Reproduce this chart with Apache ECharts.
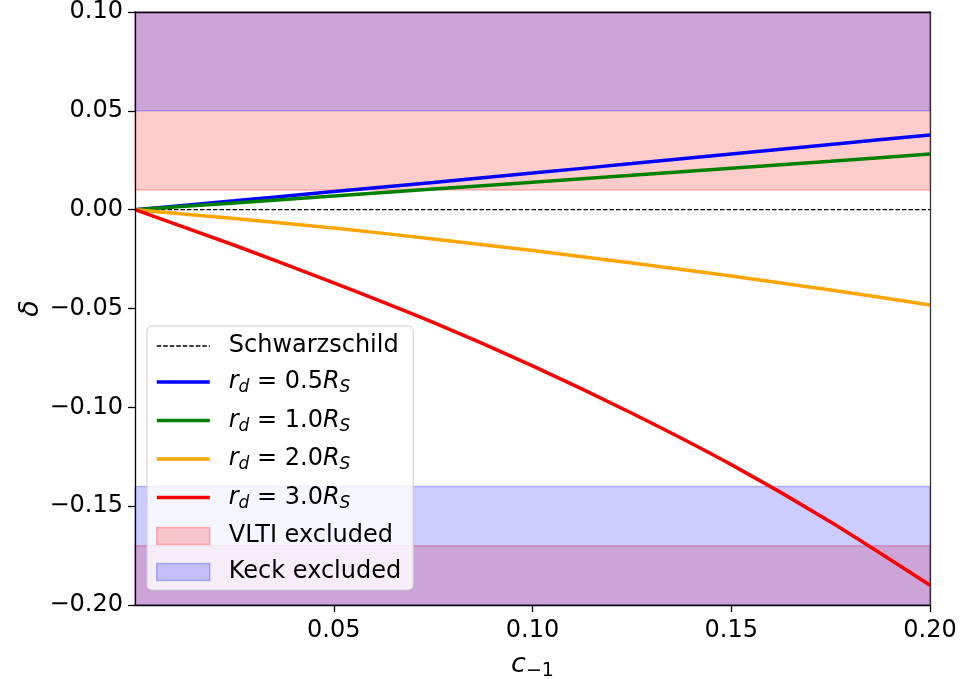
<!DOCTYPE html>
<html>
<head>
<meta charset="utf-8">
<script src="https://cdn.jsdelivr.net/npm/echarts@6/dist/echarts.min.js"></script>
<style>html,body{margin:0;padding:0;background:#fff}#chart{width:962px;height:679px}</style>
</head>
<body>
<div id="chart"></div>
<script>
// data
var cVals   = [0, 0.025, 0.05, 0.075, 0.1, 0.125, 0.15, 0.175, 0.2];
var rd05    = [0, 0.0045, 0.0092, 0.0138, 0.0185, 0.0233, 0.0282, 0.0330, 0.0378];
var rd10    = [0, 0.0034, 0.0069, 0.0104, 0.0139, 0.0174, 0.0210, 0.0245, 0.0282];
var rd20    = [0, -0.0045, -0.0093, -0.0148, -0.0207, -0.0270, -0.0336, -0.0406, -0.0482];
var rd30    = [0, -0.0180, -0.0370, -0.0570, -0.0790, -0.1030, -0.1290, -0.1580, -0.1900];
var schw    = [0, 0];
var schwX   = [0, 0.2];
var vltiBands = [[0.01, 0.10], [-0.20, -0.17]];
var keckBands = [[0.05, 0.10], [-0.20, -0.14]];
var xTicks  = [0.05, 0.10, 0.15, 0.20];

function pairs(xs, ys){ return xs.map(function(x,i){ return [x, ys[i]]; }); }
function bandsToArea(b){ return b.map(function(r){ return [{yAxis:r[0]},{yAxis:r[1]}]; }); }
function fmt(v){ return v.toFixed(2).replace('-', '\u2212'); }

var FONT = 'DejaVu Sans';
var chart = echarts.init(document.getElementById('chart'), null, {renderer:'canvas'});
var labelRich = {
  i:{fontFamily:FONT, fontSize:24, fontStyle:'italic', color:'#000'},
  n:{fontFamily:FONT, fontSize:24, color:'#000'},
  sub:{fontFamily:FONT, fontSize:17, fontStyle:'italic', color:'#000', padding:[12,0,0,0]}
};
var legendNames = {
  'r05':'{i|r}{sub|d}{n| = 0.5}{i|R}{sub|S}',
  'r10':'{i|r}{sub|d}{n| = 1.0}{i|R}{sub|S}',
  'r20':'{i|r}{sub|d}{n| = 2.0}{i|R}{sub|S}',
  'r30':'{i|r}{sub|d}{n| = 3.0}{i|R}{sub|S}'
};
var LW = 3.5;

var option = {
  animation:false,
  grid:{left:135, right:32, top:12, bottom:74, containLabel:false, outerBoundsMode:'none'},
  xAxis:[{
    type:'value', min:0, max:0.2, position:'bottom', z:10,
    axisLine:{show:true, onZero:false, lineStyle:{color:'#000', width:1.3}},
    axisTick:{show:true, inside:false, length:7, customValues:xTicks, lineStyle:{color:'#000', width:1.3}},
    axisLabel:{customValues:xTicks, fontFamily:FONT, fontSize:24, color:'#000', margin:14, formatter:fmt},
    splitLine:{show:false},
    name:'{i|c}{s|\u22121}', nameLocation:'middle', nameGap:43, nameMoveOverlap:false,
    nameTextStyle:{rich:{i:{fontFamily:FONT, fontSize:27, fontStyle:'italic', color:'#000'}, s:{fontFamily:FONT, fontSize:19, color:'#000', padding:[14,0,0,0]}}}
  },{
    type:'value', min:0, max:0.2, position:'top', z:10,
    axisLine:{show:true, onZero:false, lineStyle:{color:'#000', width:1.3}},
    axisTick:{show:false}, axisLabel:{show:false}, splitLine:{show:false}
  }],
  yAxis:[{
    type:'value', min:-0.2, max:0.1, interval:0.05, position:'left', z:10,
    axisLine:{show:true, onZero:false, lineStyle:{color:'#000', width:1.3}},
    axisTick:{show:true, inside:false, length:7, lineStyle:{color:'#000', width:1.3}},
    axisLabel:{fontFamily:FONT, fontSize:24, color:'#000', margin:12, formatter:fmt},
    splitLine:{show:false},
    name:'\u03b4', nameLocation:'middle', nameGap:91, nameRotate:90, nameMoveOverlap:false,
    nameTextStyle:{fontFamily:FONT, fontSize:27, fontStyle:'italic', color:'#000'}
  },{
    type:'value', min:-0.2, max:0.1, interval:0.05, position:'right', z:10,
    axisLine:{show:true, onZero:false, lineStyle:{color:'#333', width:1.3}},
    axisTick:{show:false}, axisLabel:{show:false}, splitLine:{show:false}
  }],
  legend:{
    orient:'vertical', left:147, top:326,
    itemWidth:53, itemHeight:17, itemGap:12,
    padding:[8,12,6,8],
    backgroundColor:'rgba(255,255,255,0.8)', borderColor:'#cccccc', borderWidth:1, borderRadius:5,
    itemStyle:{opacity:0},
    textStyle:{fontFamily:FONT, fontSize:24, color:'#000', rich:labelRich, padding:[0,0,0,14]},
    formatter:function(n){ return legendNames[n] || n; },
    data:[
      {name:'Schwarzschild', lineStyle:{width:1.3, type:[4.5,2], color:'#000'}},
      {name:'r05', lineStyle:{width:LW, color:'#0000ff'}},
      {name:'r10', lineStyle:{width:LW, color:'#008000'}},
      {name:'r20', lineStyle:{width:LW, color:'#ffa500'}},
      {name:'r30', lineStyle:{width:LW, color:'#ff0000'}},
      {name:'VLTI excluded', icon:'rect', itemStyle:{opacity:1, color:'rgba(255,0,0,0.2)', borderColor:'rgba(255,0,0,0.25)', borderWidth:1.5}},
      {name:'Keck excluded', icon:'rect', itemStyle:{opacity:1, color:'rgba(0,0,255,0.2)', borderColor:'rgba(0,0,255,0.25)', borderWidth:1.5}}
    ]
  },
  series:[
    {name:'VLTI excluded', type:'line', data:[], z:1, itemStyle:{color:'rgba(255,0,0,0.2)'},
      markArea:{silent:true, itemStyle:{color:'rgba(255,0,0,0.2)', borderColor:'rgba(255,0,0,0.25)', borderWidth:1.5}, data:bandsToArea(vltiBands)}},
    {name:'Keck excluded', type:'line', data:[], z:1, itemStyle:{color:'rgba(0,0,255,0.2)'},
      markArea:{silent:true, itemStyle:{color:'rgba(0,0,255,0.2)', borderColor:'rgba(0,0,255,0.25)', borderWidth:1.5}, data:bandsToArea(keckBands)}},
    {name:'Schwarzschild', type:'line', data:pairs(schwX, schw), showSymbol:false, symbol:'none', z:3,
      lineStyle:{color:'#000', width:1.3, type:[4.5,2]}, itemStyle:{color:'#000'}},
    {name:'r05', type:'line', data:pairs(cVals, rd05), showSymbol:false, symbol:'none', smooth:0.25, z:4,
      lineStyle:{color:'#0000ff', width:LW}, itemStyle:{color:'#0000ff'}},
    {name:'r10', type:'line', data:pairs(cVals, rd10), showSymbol:false, symbol:'none', smooth:0.25, z:4,
      lineStyle:{color:'#008000', width:LW}, itemStyle:{color:'#008000'}},
    {name:'r20', type:'line', data:pairs(cVals, rd20), showSymbol:false, symbol:'none', smooth:0.25, z:4,
      lineStyle:{color:'#ffa500', width:LW}, itemStyle:{color:'#ffa500'}},
    {name:'r30', type:'line', data:pairs(cVals, rd30), showSymbol:false, symbol:'none', smooth:0.25, z:4,
      lineStyle:{color:'#ff0000', width:LW}, itemStyle:{color:'#ff0000'}}
  ]
};
chart.setOption(option);
</script>
</body>
</html>
